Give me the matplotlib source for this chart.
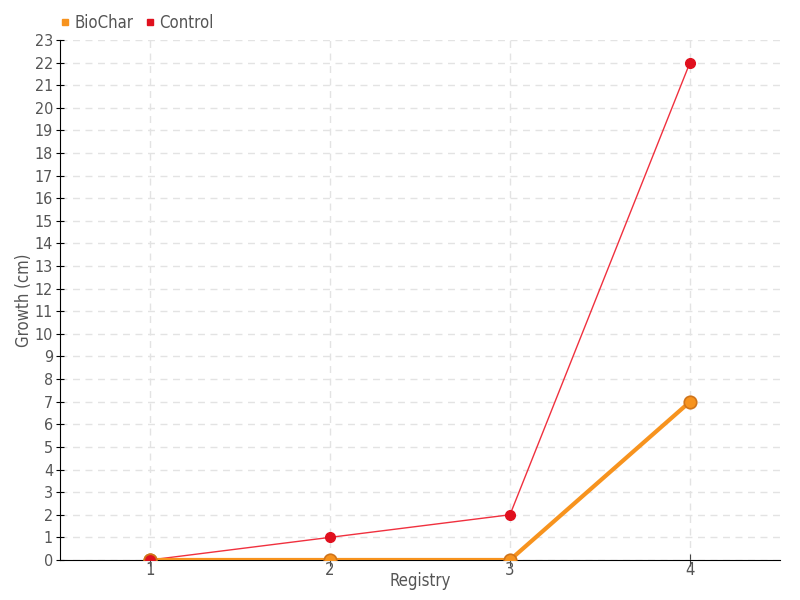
import matplotlib
matplotlib.use("Agg")
import matplotlib.pyplot as plt
from matplotlib.lines import Line2D
from matplotlib import font_manager

registry = [1, 2, 3, 4]
biochar = [0, 0, 0, 7]
control = [0, 1, 2, 22]
yticks = list(range(0, 24))

names = {f.name for f in font_manager.fontManager.ttflist}
fam = 'Liberation Sans Narrow' if 'Liberation Sans Narrow' in names else 'DejaVu Sans'
plt.rcParams['font.family'] = [fam, 'DejaVu Sans']
if fam == 'DejaVu Sans':
    plt.rcParams['font.stretch'] = 'condensed'
txt = '#555555'
fig = plt.figure(figsize=(8, 6), dpi=100)
ax = fig.add_axes([0.075, 0.0667, 0.9, 0.8667])

ax.plot(registry, control, color='#f0303e', lw=1, marker='o', ms=7,
        mfc='#e0101e', mec='#e0101e', zorder=3, label='Control')
ax.plot(registry, biochar, color='#f7931e', lw=3, marker='o', ms=9,
        mfc='#f7931e', mec='#d0741a', mew=1.2, zorder=4, label='BioChar')
ax.plot(registry[:1], control[:1], 'o', ms=9, mfc='#e0101e', mec='#d0741a', mew=1.2, zorder=5)

ax.set_xlim(0.5, 4.5)
ax.set_ylim(0, 23)
ax.set_xticks(registry)
ax.set_yticks(yticks)
ax.grid(True, color='#e3e3e3', linestyle=(0, (5, 4)), lw=1)
ax.set_axisbelow(True)
for s in ['top', 'right']:
    ax.spines[s].set_visible(False)
ax.spines['left'].set_color('black')
ax.spines['bottom'].set_color('black')
ax.tick_params(axis='y', direction='inout', length=6, colors='black', labelcolor=txt, labelsize=11.5, pad=2)
ax.tick_params(axis='x', direction='inout', length=8, colors='#444444', labelcolor=txt, labelsize=12, pad=-3)
ax.set_xlabel('Registry', color=txt, fontsize=12)
ax.set_ylabel('Growth (cm)', color=txt, fontsize=12)
ax.yaxis.set_label_coords(-0.037, 0.5)
ax.xaxis.set_label_coords(0.5, -0.024)

handles = [Line2D([], [], ls='none', marker='s', ms=5, color='#f7931e'),
           Line2D([], [], ls='none', marker='s', ms=5, color='#e0101e')]
fig.legend(handles, ['BioChar', 'Control'], loc='upper left', bbox_to_anchor=(0.052, 1.002),
           ncol=2, frameon=False, handletextpad=0.05, columnspacing=0.5, handlelength=1,
           prop={'size': 12}, labelcolor=txt)
fig.savefig('out.png', dpi=100)
